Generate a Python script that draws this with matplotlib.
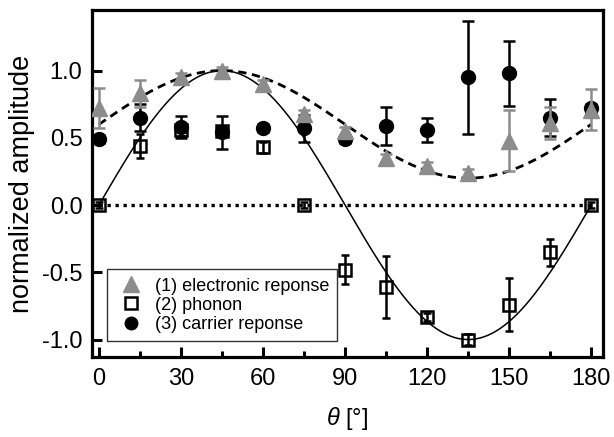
import matplotlib.pyplot as plt
from matplotlib.lines import Line2D
import numpy as np

plt.rcParams['font.family'] = ['Liberation Sans', 'DejaVu Sans']
plt.rcParams['mathtext.fontset'] = 'custom'
plt.rcParams['mathtext.it'] = 'Liberation Sans:italic'

# data
theta = [0, 15, 30, 45, 60, 75, 90, 105, 120, 135, 150, 165, 180]

elec = [0.72, 0.83, 0.95, 1.00, 0.90, 0.68, 0.55, 0.35, 0.29, 0.24, 0.48, 0.61, 0.71]
elec_err = [0.15, 0.10, 0.03, 0.03, 0.03, 0.03, 0.03, 0.03, 0.03, 0.03, 0.23, 0.12, 0.15]

phonon = [0.00, 0.44, 0.56, 0.55, 0.43, 0.00, -0.48, -0.61, -0.83, -1.00, -0.74, -0.35, 0.00]
phonon_err = [0.02, 0.09, 0.05, 0.04, 0.04, 0.02, 0.11, 0.23, 0.03, 0.04, 0.20, 0.10, 0.02]

carrier = [0.49, 0.65, 0.58, 0.54, 0.57, 0.57, 0.49, 0.59, 0.56, 0.95, 0.98, 0.65, 0.72]
carrier_err = [0.03, 0.10, 0.08, 0.12, 0.03, 0.10, 0.03, 0.14, 0.09, 0.42, 0.24, 0.14, 0.03]

# guide curves: offset + amp*sin(2 theta)
fit_phonon = (0.0, 1.0)
fit_elec = (0.6, 0.4)

gray = '#8c8c8c'

fig = plt.figure(figsize=(6.14, 4.37), dpi=100)
ax = fig.add_axes([0.150, 0.183, 0.832, 0.794])

t = np.linspace(0, 180, 400)
ax.plot(t, fit_phonon[0] + fit_phonon[1]*np.sin(np.radians(2*t)), color='k', lw=1.1, zorder=2)
ax.plot(t, fit_elec[0] + fit_elec[1]*np.sin(np.radians(2*t)), color='k', lw=2.0,
        linestyle=(0, (3, 2)), zorder=2)
ax.plot([0, 180], [0, 0], color='k', lw=2.4, linestyle=(0, (1, 1.4)), zorder=2)

ax.errorbar(theta, carrier, yerr=carrier_err, fmt='o', color='k', ms=10,
            ecolor='k', elinewidth=1.8, capsize=4, capthick=1.8, zorder=3)
ax.errorbar(theta, phonon, yerr=phonon_err, fmt='s', color='k', mfc='none', mew=1.8,
            ms=9, ecolor='k', elinewidth=1.8, capsize=3, capthick=1.8, zorder=4)
ax.errorbar(theta, elec, yerr=elec_err, fmt='^', color=gray, ms=12,
            ecolor=gray, elinewidth=1.8, capsize=4, capthick=1.8, zorder=5)

ax.set_xlim(-2.5, 184.3)
ax.set_ylim(-1.13, 1.45)
ax.set_xticks([0, 30, 60, 90, 120, 150, 180])
ax.set_xticks([15, 45, 75, 105, 135, 165], minor=True)
ax.set_yticks([-1.0, -0.5, 0.0, 0.5, 1.0])
ax.set_yticklabels(['-1.0', '-0.5', '0.0', '0.5', '1.0'])
ax.tick_params(which='both', direction='in', width=2.2, labelsize=17, top=False, right=False)
ax.tick_params(axis='x', which='both', pad=8)
ax.tick_params(axis='y', which='both', pad=7)
ax.tick_params(which='major', length=7)
ax.tick_params(which='minor', length=4.5)
for s in ax.spines.values():
    s.set_linewidth(2.3)

ax.set_xlabel(r'$\theta$ [°]', fontsize=17, labelpad=11)
ax.set_ylabel('normalized amplitude', fontsize=19.5, labelpad=5)

handles = [
    Line2D([], [], ls='none', marker='^', color=gray, ms=11),
    Line2D([], [], ls='none', marker='s', color='k', mfc='none', mew=1.8, ms=8),
    Line2D([], [], ls='none', marker='o', color='k', ms=9),
]
labels = ['(1) electronic reponse', '(2) phonon', '(3) carrier reponse']
leg = ax.legend(handles, labels, loc='lower left', fontsize=13, frameon=True,
                fancybox=False, edgecolor='k', handletextpad=0.4, borderpad=0.45,
                labelspacing=0.12, handlelength=1.8, borderaxespad=0,
                bbox_to_anchor=(0.029, 0.046))
leg.get_frame().set_linewidth(1.0)

fig.savefig('out.png', dpi=100)
